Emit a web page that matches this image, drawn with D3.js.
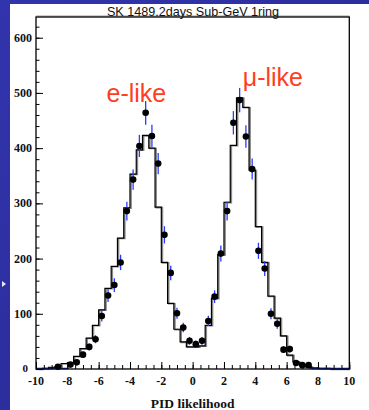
<!DOCTYPE html>
<html>
<head>
<meta charset="utf-8">
<script src="https://cdn.jsdelivr.net/npm/d3@7"></script>
<style>
  html, body { margin: 0; padding: 0; background: #2c2d9f; }
  svg { display: block; }
</style>
</head>
<body>
<svg id="chart" width="369" height="410"></svg>
<script>
// PID likelihood distribution, Sub-GeV single-ring events (bins of 0.4)
const binWidth = 0.4;
const binLowEdges = d3.range(50).map(i => -10 + i * binWidth);

// Monte Carlo expectation (histogram contents per bin)
const mcCounts = [
  0, 1, 3, 4, 10, 11, 23, 37, 56, 79,
  107, 146, 186, 237, 292, 353, 397, 423, 400, 293,
  193, 119, 72, 49, 40, 40, 42, 79, 128, 207,
  302, 405, 491, 474, 360, 258, 193, 132, 92, 60,
  25, 13, 8, 4, 2, 1, 1, 0, 0, 0
];

// Observed data (events per bin)
const dataCounts = [
  0, 0, 0, 4, 0, 8, 12, 26, 40, 54,
  96, 133, 152, 193, 286, 343, 404, 464, 422, 372,
  243, 174, 101, 75, 51, 45, 51, 87, 131, 209,
  286, 446, 487, 421, 362, 214, 182, 100, 82, 35,
  36, 11, 7, 7, 0, 0, 0, 0, 0, 0
];

const xTickValues = [-10, -8, -6, -4, -2, 0, 2, 4, 6, 8, 10];
const yTickValues = [0, 100, 200, 300, 400, 500, 600];

const titleText = "SK 1489.2days Sub-GeV 1ring";
const xLabel = "PID likelihood";
const peakLabels = [
  { text: "e-like", x: -5.5, y: 484 },
  { text: "\u03bc-like", x: 3.2, y: 512 }
];

const svg = d3.select("#chart");
const W = 369, H = 410;

// slide background
const defs = svg.append("defs");
const grad = defs.append("linearGradient").attr("id", "bg").attr("x1", 0).attr("y1", 0).attr("x2", 1).attr("y2", 1);
grad.append("stop").attr("offset", "0%").attr("stop-color", "#3234ad");
grad.append("stop").attr("offset", "100%").attr("stop-color", "#26288f");
svg.append("rect").attr("width", W).attr("height", H).attr("fill", "url(#bg)");
svg.append("path").attr("d", "M2,281 L6,284 L2,287 Z").attr("fill", "#e8e8f4");

// white canvas
svg.append("rect").attr("x", 10).attr("y", 4).attr("width", W - 10).attr("height", H - 4).attr("fill", "#ffffff");

const frame = { left: 36, right: 349.3, top: 17, bottom: 369 };
const x = d3.scaleLinear().domain([-10, 10]).range([frame.left, frame.right]);
const y = d3.scaleLinear().domain([0, 637.5]).range([frame.bottom, frame.top]);

const plot = svg.append("g");

// MC histogram as a step outline
const stepPts = [];
binLowEdges.forEach((lo, i) => {
  stepPts.push([lo, mcCounts[i]]);
  stepPts.push([lo + binWidth, mcCounts[i]]);
});
const stepLine = d3.line().x(d => x(d[0])).y(d => y(d[1]));

plot.append("path")
  .attr("d", stepLine(stepPts))
  .attr("fill", "none")
  .attr("stroke", "#8a8a8a")
  .attr("stroke-width", 1.6)
  .attr("transform", "translate(1.1,0.4)");
plot.append("path")
  .attr("d", stepLine(stepPts))
  .attr("fill", "none")
  .attr("stroke", "#000")
  .attr("stroke-width", 1.2);

// data: empty bins marked along the baseline
const pts = binLowEdges.map((lo, i) => ({ c: lo + binWidth / 2, n: dataCounts[i] }));
plot.selectAll("line.zero")
  .data(pts.filter(d => d.n === 0))
  .join("line")
  .attr("class", "zero")
  .attr("x1", d => x(d.c - binWidth / 2))
  .attr("x2", d => x(d.c + binWidth / 2))
  .attr("y1", y(0) - 0.5)
  .attr("y2", y(0) - 0.5)
  .attr("stroke", "#1530ff")
  .attr("stroke-width", 1.6);

// statistical error bars
const filled = pts.filter(d => d.n > 0);
plot.selectAll("line.err")
  .data(filled)
  .join("line")
  .attr("class", "err")
  .attr("x1", d => x(d.c))
  .attr("x2", d => x(d.c))
  .attr("y1", d => y(d.n + Math.sqrt(d.n)))
  .attr("y2", d => y(Math.max(0, d.n - Math.sqrt(d.n))))
  .attr("stroke", "#2a3cff")
  .attr("stroke-width", 1.3);

plot.selectAll("circle.pt")
  .data(filled)
  .join("circle")
  .attr("class", "pt")
  .attr("cx", d => x(d.c))
  .attr("cy", d => y(d.n))
  .attr("r", 3.3)
  .attr("fill", "#000");

// frame
svg.append("line").attr("x1", frame.left).attr("x2", frame.right).attr("y1", frame.top - 1).attr("y2", frame.top - 1)
  .attr("stroke", "#9a9a9a").attr("stroke-width", 1);
svg.append("rect")
  .attr("x", frame.left).attr("y", frame.top)
  .attr("width", frame.right - frame.left).attr("height", frame.bottom - frame.top)
  .attr("fill", "none").attr("stroke", "#000").attr("stroke-width", 1.3);

// axes with inward ticks
const yAxisMajor = d3.axisRight(y).tickValues(yTickValues).tickSize(7).tickFormat("");
const yAxisMinor = d3.axisRight(y).tickValues(d3.range(0, 637, 20)).tickSize(3.5).tickFormat("");
svg.append("g").attr("transform", `translate(${frame.left},0)`).call(yAxisMinor).call(g => g.select(".domain").remove());
svg.append("g").attr("transform", `translate(${frame.left},0)`).call(yAxisMajor).call(g => g.select(".domain").remove());

const xAxisMajor = d3.axisTop(x).tickValues(xTickValues).tickSize(7).tickFormat("");
const xAxisMinor = d3.axisTop(x).tickValues(d3.range(-10, 10.01, 0.5)).tickSize(4).tickFormat("");
svg.append("g").attr("transform", `translate(0,${frame.bottom})`).call(xAxisMinor).call(g => g.select(".domain").remove());
svg.append("g").attr("transform", `translate(0,${frame.bottom})`).call(xAxisMajor).call(g => g.select(".domain").remove());
svg.selectAll(".tick line").attr("stroke", "#000").attr("stroke-width", 1);

// tick labels
const labelFont = "'Liberation Serif', 'Times New Roman', serif";
svg.append("g").selectAll("text")
  .data(yTickValues)
  .join("text")
  .attr("x", d => d === 0 ? 28 : 32)
  .attr("y", d => d === 0 ? y(d) + 2.5 : y(d) + 4)
  .attr("text-anchor", "end")
  .attr("font-family", labelFont)
  .attr("font-weight", "bold")
  .attr("font-size", d => d === 0 ? 11 : 12)
  .attr("fill", "#111")
  .text(d => d);

svg.append("g").selectAll("text")
  .data(xTickValues)
  .join("text")
  .attr("x", d => x(d))
  .attr("y", 385)
  .attr("text-anchor", "middle")
  .attr("font-family", labelFont)
  .attr("font-weight", "bold")
  .attr("font-size", 12)
  .attr("fill", "#111")
  .text(d => d);

svg.append("text")
  .attr("x", x(0))
  .attr("y", 408)
  .attr("text-anchor", "middle")
  .attr("font-family", labelFont)
  .attr("font-weight", "bold")
  .attr("font-size", 13.5)
  .attr("fill", "#111")
  .text(xLabel);

svg.append("text")
  .attr("x", 193)
  .attr("y", 16)
  .attr("text-anchor", "middle")
  .attr("font-family", "'Liberation Sans', Arial, sans-serif")
  .attr("font-size", 12.6)
  .attr("fill", "#111")
  .text(titleText);

svg.append("g").selectAll("text")
  .data(peakLabels)
  .join("text")
  .attr("x", d => x(d.x))
  .attr("y", d => y(d.y))
  .attr("font-family", "'Liberation Sans', Arial, sans-serif")
  .attr("font-size", 25)
  .attr("fill", "#ff3d1f")
  .text(d => d.text);
</script>
</body>
</html>
